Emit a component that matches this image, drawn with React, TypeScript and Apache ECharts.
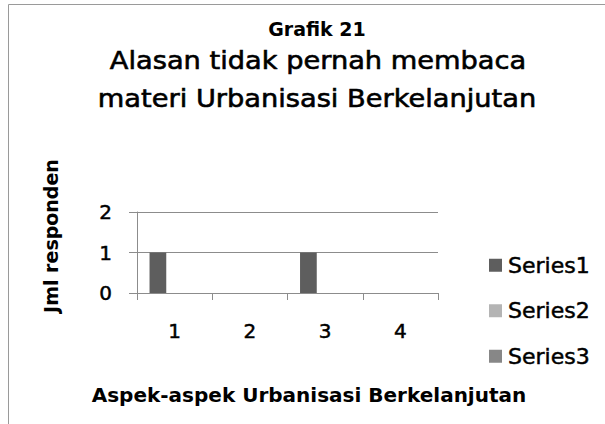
import React, { useEffect, useRef } from "react";
import * as echarts from "echarts";

const categories = ["1", "2", "3", "4"];
const seriesNames = ["Series1", "Series2", "Series3"];
const series1 = [1, 0, 1, 0];
const series2 = [0, 0, 0, 0];
const series3 = [0, 0, 0, 0];
const yTicks = [0, 1, 2];
const titleLines = ["Grafik 21", "Alasan tidak pernah membaca", "materi Urbanisasi Berkelanjutan"];
const yName = "Jml responden";
const xName = "Aspek-aspek Urbanisasi Berkelanjutan";

const FONT = "'DejaVu Sans'";
const colors = ["#5e5e5e", "#b4b4b4", "#878787"];

export default function App() {
  const ref = useRef<HTMLDivElement>(null);
  useEffect(() => {
    document.body.style.margin = "0";
    const chart = echarts.init(ref.current!, null, { renderer: "svg" });
    const values = [series1, series2, series3];
    const heavy = { textBorderColor: "#000", textBorderWidth: 0.5 };
    chart.setOption({
      animation: false,
      backgroundColor: "#ffffff",
      textStyle: { fontFamily: FONT },
      grid: { left: 137, right: 167, top: 212, bottom: 131 },
      legend: {
        orient: "vertical",
        left: 484,
        top: 249,
        itemWidth: 13,
        itemHeight: 13,
        itemGap: 23,
        icon: "rect",
        data: seriesNames,
        textStyle: { fontFamily: FONT, fontSize: 22, color: "#000", lineHeight: 22, padding: [0, 0, 0, 1], ...heavy },
      },
      xAxis: {
        type: "category",
        data: categories,
        axisLine: { show: true, lineStyle: { color: "#8c8c8c", width: 1 } },
        axisTick: { show: true, length: 7, lineStyle: { color: "#8c8c8c" } },
        axisLabel: { fontFamily: FONT, fontSize: 20, color: "#000", margin: 28, ...heavy },
        splitLine: { show: false },
      },
      yAxis: {
        type: "value",
        min: yTicks[0],
        max: yTicks[yTicks.length - 1],
        interval: 1,
        axisLine: { show: true, lineStyle: { color: "#8c8c8c", width: 1 } },
        axisTick: { show: true, length: 8, lineStyle: { color: "#8c8c8c" } },
        axisLabel: { fontFamily: FONT, fontSize: 20, color: "#000", margin: 25, ...heavy },
        splitLine: { show: true, lineStyle: { color: "#8c8c8c", width: 1 } },
      },
      series: seriesNames.map((name, i) => ({
        name,
        type: "bar",
        data: values[i],
        barGap: "0%",
        barCategoryGap: "33.3%",
        itemStyle: { color: colors[i] },
      })),
      graphic: [
        {
          type: "rect",
          shape: { x: 8.5, y: 4.5, width: 700, height: 500 },
          style: { fill: "none", stroke: "#9a9a9a", lineWidth: 1 },
          silent: true,
        },
        {
          type: "text",
          x: 317,
          y: 29,
          style: { text: titleLines[0], x: 0, y: 0, align: "center", verticalAlign: "middle", font: `bold 19px ${FONT}`, fill: "#000" },
        },
        {
          type: "text",
          x: 318,
          y: 60,
          scaleX: 1.09,
          style: { text: titleLines[1], x: 0, y: 0, align: "center", verticalAlign: "middle", font: `25px ${FONT}`, fill: "#000", stroke: "#000", lineWidth: 0.6 },
        },
        {
          type: "text",
          x: 317,
          y: 98,
          scaleX: 1.09,
          style: { text: titleLines[2], x: 0, y: 0, align: "center", verticalAlign: "middle", font: `25px ${FONT}`, fill: "#000", stroke: "#000", lineWidth: 0.6 },
        },
        {
          type: "text",
          x: 51,
          y: 236,
          rotation: Math.PI / 2,
          style: { text: yName, x: 0, y: 0, align: "center", verticalAlign: "middle", font: `bold 19px ${FONT}`, fill: "#000" },
        },
        {
          type: "text",
          x: 309,
          y: 395,
          style: { text: xName, x: 0, y: 0, align: "center", verticalAlign: "middle", font: `bold 20px ${FONT}`, fill: "#000" },
        },
      ],
    });
    return () => chart.dispose();
  }, []);
  return <div ref={ref} style={{ width: 605, height: 424 }} />;
}
